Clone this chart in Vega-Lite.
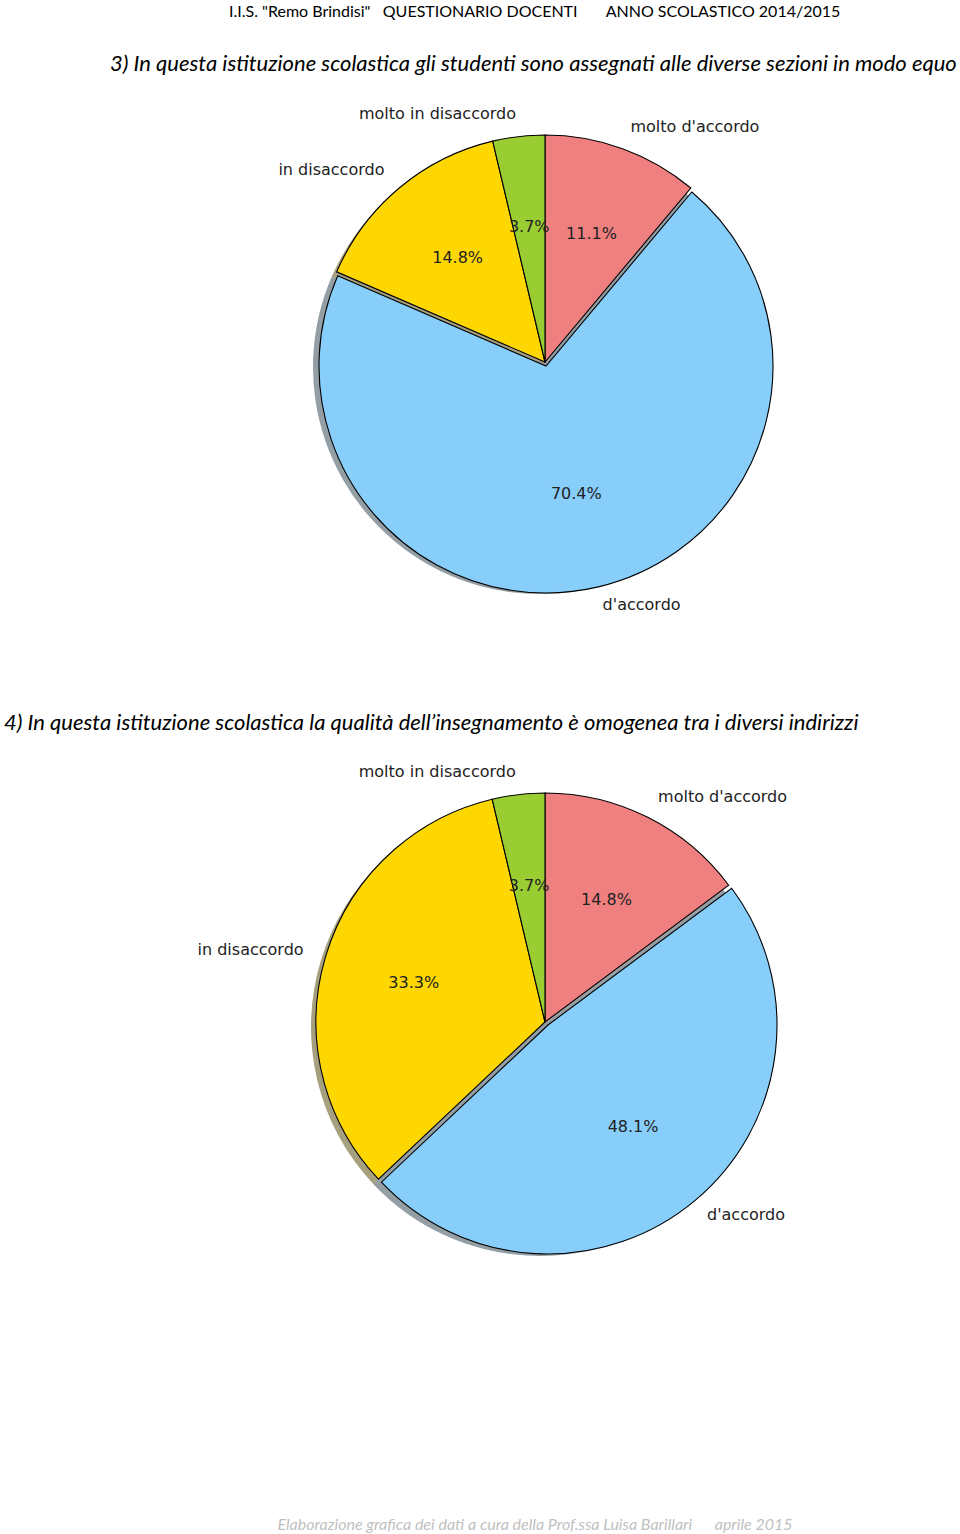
{
  "$schema": "https://vega.github.io/schema/vega-lite/v6.json",
  "background": "white",
  "padding": {"left": 0, "top": 3, "right": 0, "bottom": 0},
  "autosize": {"type": "pad"},
  "spacing": 72,
  "title": {
    "text": "I.I.S. \"Remo Brindisi\"\u00a0\u00a0\u00a0QUESTIONARIO DOCENTI\u00a0\u00a0\u00a0\u00a0\u00a0\u00a0\u00a0ANNO SCOLASTICO 2014/2015",
    "anchor": "start", "dx": 229, "font": "Lato", "fontSize": 16, "fontWeight": "normal", "color": "#000", "offset": 33
  },
  "config": {"view": {"stroke": null}},
  "datasets": {
    "pies": [
      {"q": "3", "cat": "molto d'accordo", "pct": 0.111, "ord": 1},
      {"q": "3", "cat": "d'accordo", "pct": 0.704, "ord": 2},
      {"q": "3", "cat": "in disaccordo", "pct": 0.148, "ord": 3},
      {"q": "3", "cat": "molto in disaccordo", "pct": 0.037, "ord": 4},
      {"q": "4", "cat": "molto d'accordo", "pct": 0.148, "ord": 1},
      {"q": "4", "cat": "d'accordo", "pct": 0.481, "ord": 2},
      {"q": "4", "cat": "in disaccordo", "pct": 0.333, "ord": 3},
      {"q": "4", "cat": "molto in disaccordo", "pct": 0.037, "ord": 4}
    ]
  },
  "vconcat": [
    {
      "title": {"text": "3) In questa istituzione scolastica gli studenti sono assegnati alle diverse sezioni in modo equo", "anchor": "start", "dx": 110, "font": "Lato", "fontStyle": "italic", "fontSize": 22, "fontWeight": "normal", "color": "#000", "offset": 8.5},
      "spacing": 0,
      "hconcat": [
        {"width": 130, "height": 556, "data": {"values": []}, "mark": {"type": "point", "opacity": 0}},
        {
          "width": 830, "height": 556,
          "data": {"name": "pies"},
          "transform": [{"filter": "datum.q == '3'"}],
          "encoding": {
            "theta": {"field": "pct", "type": "quantitative", "stack": true, "scale": {"nice": false}},
            "order": {"field": "ord", "type": "quantitative"}
          },
          "layer": [
            {"mark": {"type": "arc", "radius": 227, "xOffset": -5, "yOffset": 5, "opacity": 0.23},
             "encoding": {"color": {"field": "cat", "type": "nominal", "scale": {"domain": ["molto d'accordo", "d'accordo", "in disaccordo", "molto in disaccordo"], "range": ["#F08080", "#87CEFA", "#FFD700", "#9ACD32"]}, "legend": null}}},
            {"mark": {"type": "arc", "radius": 227, "xOffset": -5, "yOffset": 5, "fill": "#000", "opacity": 0.35}},
            {"mark": {"type": "arc", "radius": 227, "stroke": "#000", "strokeWidth": 1.1,
                      "xOffset": {"expr": "datum.cat == \"d'accordo\" ? 1 : 0"},
                      "yOffset": {"expr": "datum.cat == \"d'accordo\" ? 4 : 0"}},
             "encoding": {"color": {"field": "cat", "type": "nominal", "legend": null}}},
            {"mark": {"type": "text", "radius": 136, "font": "DejaVu Sans", "fontSize": 16, "color": "#222", "baseline": "middle"},
             "encoding": {"text": {"field": "pct", "type": "quantitative", "format": ".1%"}}},
            {"mark": {"type": "text", "radius": 250, "font": "DejaVu Sans", "fontSize": 16, "color": "#222", "baseline": "middle",
                      "align": {"expr": "(datum.pct_start + datum.pct_end) > 1 ? 'right' : 'left'"}},
             "encoding": {"text": {"field": "cat", "type": "nominal"}}}
          ]
        }
      ]
    },
    {
      "title": {"text": "4) In questa istituzione scolastica la qualità dell’insegnamento è omogenea tra i diversi indirizzi", "anchor": "start", "dx": 4, "font": "Lato", "fontStyle": "italic", "fontSize": 22, "fontWeight": "normal", "color": "#000", "offset": 10},
      "spacing": 0,
      "hconcat": [
        {"width": 130, "height": 554, "data": {"values": []}, "mark": {"type": "point", "opacity": 0}},
        {
          "width": 830, "height": 554,
          "data": {"name": "pies"},
          "transform": [{"filter": "datum.q == '4'"}],
          "encoding": {
            "theta": {"field": "pct", "type": "quantitative", "stack": true, "scale": {"nice": false}},
            "order": {"field": "ord", "type": "quantitative"}
          },
          "layer": [
            {"mark": {"type": "arc", "radius": 229, "xOffset": -5, "yOffset": 5, "opacity": 0.23},
             "encoding": {"color": {"field": "cat", "type": "nominal", "scale": {"domain": ["molto d'accordo", "d'accordo", "in disaccordo", "molto in disaccordo"], "range": ["#F08080", "#87CEFA", "#FFD700", "#9ACD32"]}, "legend": null}}},
            {"mark": {"type": "arc", "radius": 229, "xOffset": -5, "yOffset": 5, "fill": "#000", "opacity": 0.35}},
            {"mark": {"type": "arc", "radius": 229, "stroke": "#000", "strokeWidth": 1.1,
                      "xOffset": {"expr": "datum.cat == \"d'accordo\" ? 3 : 0"},
                      "yOffset": {"expr": "datum.cat == \"d'accordo\" ? 3 : 0"}},
             "encoding": {"color": {"field": "cat", "type": "nominal", "legend": null}}},
            {"mark": {"type": "text", "radius": 137, "font": "DejaVu Sans", "fontSize": 16, "color": "#222", "baseline": "middle"},
             "encoding": {"text": {"field": "pct", "type": "quantitative", "format": ".1%"}}},
            {"mark": {"type": "text", "radius": 252, "font": "DejaVu Sans", "fontSize": 16, "color": "#222", "baseline": "middle",
                      "align": {"expr": "(datum.pct_start + datum.pct_end) > 1 ? 'right' : 'left'"}},
             "encoding": {"text": {"field": "cat", "type": "nominal"}}}
          ]
        }
      ]
    },
    {
      "width": 960, "height": 308,
      "data": {"values": [{"t": "Elaborazione grafica dei dati a cura della Prof.ssa Luisa Barillari\u00a0\u00a0\u00a0\u00a0\u00a0\u00a0aprile 2015"}]},
      "mark": {"type": "text", "font": "Lato", "fontStyle": "italic", "fontSize": 16, "color": "#bfbfbf", "dx": 55, "baseline": "middle"},
      "encoding": {"text": {"field": "t", "type": "nominal"}}
    }
  ]
}
